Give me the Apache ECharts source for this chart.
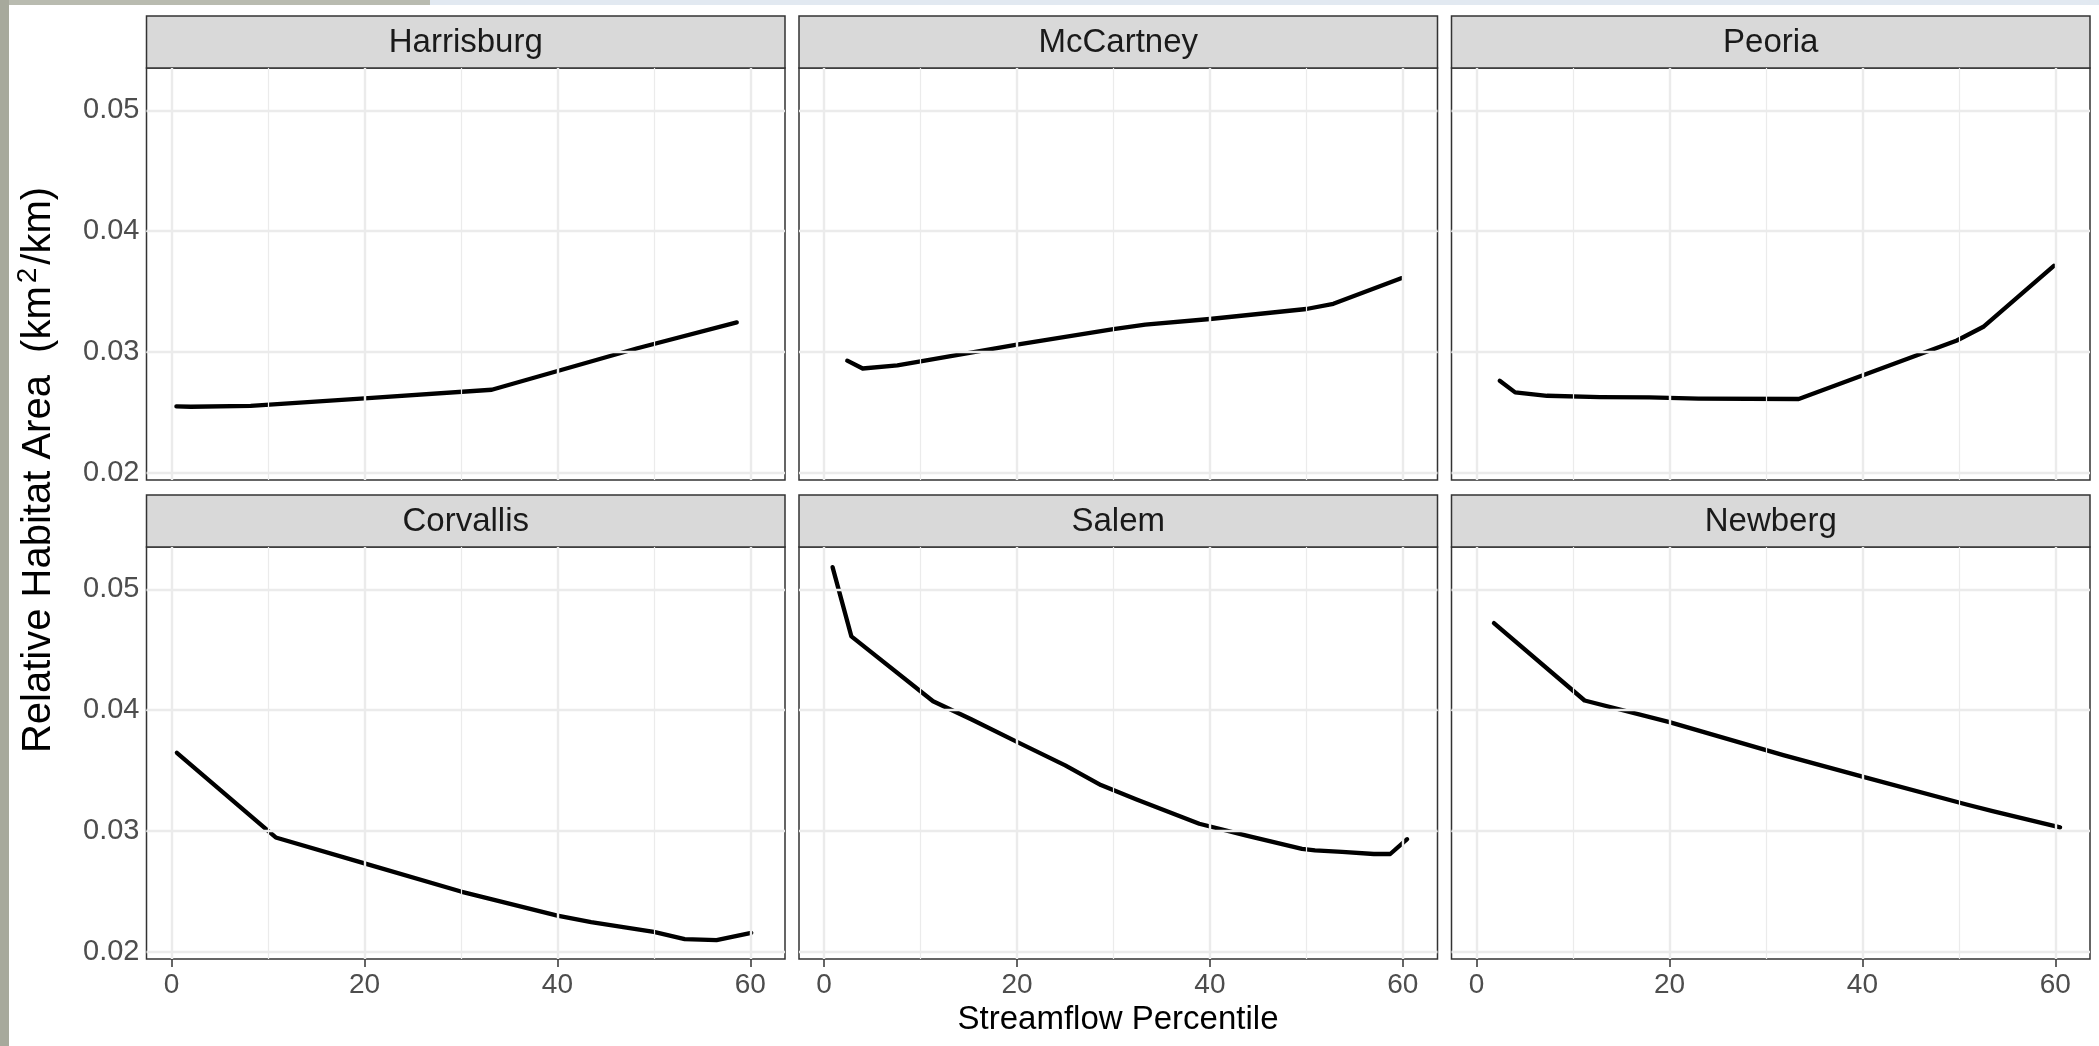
<!DOCTYPE html>
<html>
<head>
<meta charset="utf-8">
<script src="https://cdn.jsdelivr.net/npm/echarts@6/dist/echarts.min.js"></script>
<style>
html,body{margin:0;padding:0;background:#fff;}
#chart{width:2099px;height:1046px;}
</style>
</head>
<body>
<div id="chart"></div>
<script>
// ---- data ----
const sites = ['Harrisburg', 'McCartney', 'Peoria', 'Corvallis', 'Salem', 'Newberg'];

const harrisburgX = [0.5, 2, 8.2, 20, 33.2, 48.3, 58.6];
const harrisburgY = [0.02548, 0.02545, 0.02553, 0.02615, 0.02686, 0.0303, 0.03244];

const mccartneyX = [2.4, 4.0, 7.6, 10, 20, 30, 33.3, 40, 50, 52.8, 59.9];
const mccartneyY = [0.02927, 0.02862, 0.02887, 0.0292, 0.03059, 0.03189, 0.03225, 0.03272, 0.03355, 0.03398, 0.03611];

const peoriaX = [2.4, 4.0, 7.3, 12.8, 17.9, 23.0, 33.4, 49.8, 52.6, 59.85];
const peoriaY = [0.02761, 0.02664, 0.02636, 0.02625, 0.02622, 0.02612, 0.02609, 0.03094, 0.0321, 0.03713];

const corvallisX = [0.55, 10.8, 20, 30, 40, 43.5, 50, 53.2, 56.5, 60.1];
const corvallisY = [0.03647, 0.02945, 0.0273, 0.02497, 0.02298, 0.02244, 0.02163, 0.02103, 0.02094, 0.02155];

const salemX = [0.88, 2.83, 11.3, 15.25, 20, 25, 28.7, 32.4, 38.9, 43.8, 49.55, 50.9, 53.7, 57, 58.7, 60.45];
const salemY = [0.05185, 0.04611, 0.04074, 0.03925, 0.03737, 0.03543, 0.03379, 0.03259, 0.03059, 0.0296, 0.0285, 0.02838, 0.02826, 0.02808, 0.02808, 0.02931];

const newbergX = [1.8, 11.2, 20, 31.8, 40.1, 50.7, 53.5, 60.5];
const newbergY = [0.04722, 0.0408, 0.03901, 0.03627, 0.03447, 0.0322, 0.03164, 0.03029];

const xTicks = [0, 20, 40, 60];
const xMinor = [10, 30, 50];
const yTicks = [0.02, 0.03, 0.04, 0.05];
const yMinor = [0.025, 0.035, 0.045];

const xTitle = 'Streamflow Percentile';

// ---- layout ----
const FONT = '"Liberation Sans", Arial, sans-serif';
const colLeft = [146.5, 799, 1451.5];
const panelW = 638.5;
const rowTop = [68, 547];
const panelH = 412;
const stripH = 52;
const xRange = [-2.6, 63.6];
const yRange = [0.01938, 0.05352];

const seriesX = [harrisburgX, mccartneyX, peoriaX, corvallisX, salemX, newbergX];
const seriesY = [harrisburgY, mccartneyY, peoriaY, corvallisY, salemY, newbergY];

const grids = [], xAxes = [], yAxes = [], series = [], graphics = [];

// background edges
graphics.push({type:'rect', shape:{x:0,y:0,width:2099,height:5}, style:{fill:'#e2e9f1'}, silent:true});
graphics.push({type:'rect', shape:{x:0,y:0,width:430,height:5}, style:{fill:'#b9bbb0'}, silent:true});
graphics.push({type:'rect', shape:{x:0,y:0,width:9,height:1046}, style:{fill:'#a7a99c'}, silent:true});

for (let i = 0; i < 6; i++) {
  const r = Math.floor(i / 3), c = i % 3;
  const left = colLeft[c], top = rowTop[r];
  grids.push({left: left, top: top, width: panelW, height: panelH, show: true,
    backgroundColor: '#fff', borderColor: '#333', borderWidth: 1.5, containLabel: false});
  const bottomRow = r === 1, leftCol = c === 0;
  xAxes.push({type:'value', gridIndex:i, min:xRange[0], max:xRange[1],
    axisLine:{show:false}, splitLine:{show:false},
    axisTick:{show:bottomRow, customValues:xTicks, length:8, lineStyle:{color:'#333', width:1.5}},
    axisLabel:{show:bottomRow, customValues:xTicks, fontSize:28, color:'#4D4D4D', fontFamily:FONT, margin:12}
  });
  yAxes.push({type:'value', gridIndex:i, min:yRange[0], max:yRange[1],
    axisLine:{show:false}, splitLine:{show:false},
    axisTick:{show:leftCol, customValues:yTicks, length:8, lineStyle:{color:'#333', width:1.5}},
    axisLabel:{show:leftCol, customValues:yTicks, fontSize:29, color:'#4D4D4D', fontFamily:FONT, margin:7,
      formatter: v => v.toFixed(2)}
  });
  const gl = [];
  xMinor.forEach(v => gl.push({xAxis:v, lineStyle:{color:'#EBEBEB', width:1.2, type:'solid'}}));
  yMinor.forEach(v => gl.push({yAxis:v, lineStyle:{color:'#EBEBEB', width:1.2, type:'solid'}}));
  xTicks.forEach(v => gl.push({xAxis:v, lineStyle:{color:'#EBEBEB', width:2.4, type:'solid'}}));
  yTicks.forEach(v => gl.push({yAxis:v, lineStyle:{color:'#EBEBEB', width:2.4, type:'solid'}}));
  series.push({type:'line', xAxisIndex:i, yAxisIndex:i, data:[], z:1, silent:true,
    markLine:{silent:true, symbol:'none', animation:false, label:{show:false}, data:gl}});
  series.push({type:'line', name:sites[i], xAxisIndex:i, yAxisIndex:i, z:3,
    data: seriesX[i].map((x, k) => [x, seriesY[i][k]]),
    showSymbol:false, symbol:'none', smooth:false, animation:false,
    lineStyle:{color:'#000', width:4.3, cap:'round', join:'round'}});
  // strip
  graphics.push({type:'rect', shape:{x:left, y:top - stripH, width:panelW, height:stripH},
    style:{fill:'#D9D9D9', stroke:'#333', lineWidth:1.5}, silent:true});
  graphics.push({type:'text', x:left + panelW/2, y:top - stripH/2 + 1,
    style:{text:sites[i], fontSize:33, fontFamily:FONT, fill:'#1A1A1A', align:'center', verticalAlign:'middle'}, silent:true});
}

graphics.push({type:'text', x:1118, y:1020,
  style:{text:xTitle, fontSize:33, fontFamily:FONT, fill:'#000', align:'center', verticalAlign:'middle'}, silent:true});

graphics.push({type:'text', x:35, y:470, rotation:Math.PI/2,
  style:{text:'{a|Relative Habitat Area  (km}{s|2}{a|/km)}', align:'center', verticalAlign:'middle',
    rich:{a:{fontSize:40, fontFamily:FONT, fill:'#000', verticalAlign:'bottom', lineHeight:48},
          s:{fontSize:28, fontFamily:FONT, fill:'#000', verticalAlign:'bottom', lineHeight:48, padding:[0,3,17,3]}}},
  silent:true});

const chart = echarts.init(document.getElementById('chart'), null, {renderer:'canvas'});
chart.setOption({
  animation:false,
  backgroundColor:'#fff',
  grid:grids, xAxis:xAxes, yAxis:yAxes, series:series, graphic:graphics
});
</script>
</body>
</html>
